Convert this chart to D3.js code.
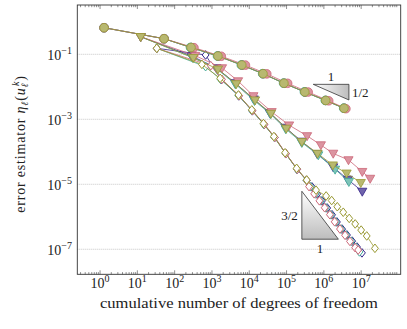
<!DOCTYPE html>
<html><head><meta charset="utf-8">
<script src="https://cdn.jsdelivr.net/npm/d3@7"></script>
<style>html,body{margin:0;padding:0;background:#fff}svg{display:block}</style>
</head><body>
<script>
// ---- data ----
const xTickExps = [0,1,2,3,4,5,6,7];
const yTickExps = [-1,-3,-5,-7];
const colors = {blue:"#332288", pink:"#CC6677", teal:"#44AA99", olive:"#999933"};
const seriesOrder = ["blue","teal","pink","olive"];

// circles (rate 1/2)
const dofCircBlue  = [1.28, 52, 280, 1460, 6400, 23600, 86000, 312000, 1.13e6, 3.5e6];
const etaCircBlue  = [0.658, 0.302, 0.161, 0.0885, 0.0466, 0.0252, 0.0128, 0.0069, 0.0038, 0.00218];
const dofCircTeal  = [1.28, 52, 265, 1400, 6100, 22800, 83000, 300000, 1.09e6, 3.4e6];
const etaCircTeal  = [0.658, 0.302, 0.163, 0.089, 0.047, 0.0254, 0.0130, 0.0070, 0.0038, 0.0022];
const dofCircPink  = [1.28, 52, 330, 1780, 7900, 29500, 107000, 380000, 1.35e6, 3.9e6];
const etaCircPink  = [0.658, 0.302, 0.160, 0.087, 0.0465, 0.0250, 0.0128, 0.0069, 0.0037, 0.00212];
const dofCircOlive = [1.28, 52, 275, 1445, 6310, 23400, 85100, 309000, 1.12e6, 3.47e6];
const etaCircOlive = [0.658, 0.302, 0.162, 0.0887, 0.0468, 0.0253, 0.0129, 0.00692, 0.0038, 0.00219];

// triangles (rate 1)
const dofTriBlue  = [12.3, 282, 1318, 4170, 13200, 35500, 93300, 251000, 661000, 1.78e6, 4.37e6, 1.07e7];
const etaTriBlue  = [0.347, 0.0891, 0.038, 0.0132, 0.00417, 0.00158, 5.62e-4, 2.09e-4, 8.71e-5, 3.39e-5, 1.41e-5, 6.03e-6];
const dofTriTeal  = [12.3, 302, 1380, 4270, 13800, 37200, 95500, 257000, 708000, 2.0e6, 4.68e6];
const etaTriTeal  = [0.347, 0.0794, 0.0347, 0.012, 0.00372, 0.00145, 5.01e-4, 1.91e-4, 7.94e-5, 2.88e-5, 1.2e-5];
const dofTriPink  = [12.3, 355, 1860, 5010, 12900, 39800, 117000, 355000, 832000, 1.78e6, 4.57e6, 1.07e7, 1.74e7];
const etaTriPink  = [0.347, 0.0912, 0.038, 0.0151, 0.00525, 0.0017, 6.61e-4, 3.09e-4, 1.62e-4, 8.91e-5, 5.62e-5, 2.45e-5, 1.51e-5];
const dofTriOlive = [12.3, 316, 1445, 4470, 14300, 38000, 97700, 257000, 676000, 1.74e6, 4.07e6, 9.77e6];
const etaTriOlive = [0.347, 0.0785, 0.0347, 0.0123, 0.00389, 0.00151, 5.25e-4, 2.04e-4, 8.91e-5, 3.89e-5, 2.19e-5, 1.12e-5];

// diamonds (rate 3/2)
const dofDiaBlue  = [33.1, 676, 1780, 5250, 12000, 25100, 47900, 95500, 191000, 347000, 479000, 661000, 891000, 1.23e6, 1.66e6, 2.24e6, 3.09e6, 4.17e6, 5.75e6, 7.76e6, 1.05e7];
const etaDiaBlue  = [0.153, 0.0955, 0.0166, 0.00525, 0.00182, 6.92e-4, 2.75e-4, 8.71e-5, 2.88e-5, 1.32e-5, 8.32e-6, 5.01e-6, 3.09e-6, 1.86e-6, 1.15e-6, 6.92e-7, 4.17e-7, 2.75e-7, 1.78e-7, 1.17e-7, 7.76e-8];
const dofDiaTeal  = [33.1, 676, 1700, 5100, 11800, 24500, 47000, 94000, 188000, 340000, 440000, 600000, 820000, 1.13e6, 1.55e6, 2.1e6, 2.9e6, 3.95e6, 5.4e6, 7.3e6, 9.0e6];
const etaDiaTeal  = [0.153, 0.0417, 0.0170, 0.0054, 0.00186, 7.0e-4, 2.8e-4, 8.9e-5, 2.95e-5, 1.34e-5, 8.4e-6, 5.05e-6, 3.1e-6, 1.88e-6, 1.15e-6, 6.95e-7, 4.2e-7, 2.75e-7, 1.77e-7, 1.15e-7, 8.3e-8];
const dofDiaPink  = [33.1, 930, 1850, 5350, 12200, 25500, 48500, 96500, 193000, 345000, 400000, 550000, 760000, 1.05e6, 1.45e6, 1.95e6, 2.7e6, 3.7e6, 5.0e6, 6.9e6, 8.3e6];
const etaDiaPink  = [0.153, 0.0447, 0.0170, 0.0053, 0.00184, 7.0e-4, 2.78e-4, 8.8e-5, 2.9e-5, 1.34e-5, 8.5e-6, 5.1e-6, 3.1e-6, 1.9e-6, 1.16e-6, 7.0e-7, 4.2e-7, 2.7e-7, 1.75e-7, 1.12e-7, 9.5e-8];
const dofDiaOlive = [33.1, 537, 1660, 5130, 11700, 24000, 45700, 91200, 186000, 347000, 617000, 1.15e6, 1.62e6, 2.29e6, 3.31e6, 4.79e6, 6.92e6, 1.0e7, 1.41e7, 2.34e7];
const etaDiaOlive = [0.153, 0.049, 0.0182, 0.00562, 0.00195, 7.41e-4, 2.95e-4, 9.33e-5, 3.09e-5, 1.35e-5, 6.61e-6, 4.37e-6, 3.16e-6, 2.04e-6, 1.38e-6, 8.91e-7, 6.03e-7, 3.89e-7, 2.57e-7, 1.07e-7];

// slope triangles: corners in data units
const slopeHalf = {x:[5.2e5, 4.7e6], y:[1.19e-2, 3.93e-3], run:"1", rise:"1/2"};
const slopeThreeHalf = {x:[2.57e5, 2.45e6], y:[6.1e-6, 2.04e-7], run:"1", rise:"3/2"};

const xTitle = "cumulative number of degrees of freedom";

// ---- drawing ----
const W = 407, H = 329;
const L = 77.3, R = 400.7, T = 5, B = 274.3;
const svg = d3.select("body").append("svg").attr("width", W).attr("height", H);
const x = d3.scaleLog().domain([Math.pow(10,-0.61), Math.pow(10,8.06)]).range([L, R]);
const y = d3.scaleLog().domain([Math.pow(10,0.517), Math.pow(10,-7.77)]).range([T, B]);
const font = "'Liberation Serif', 'DejaVu Serif', serif";

const defs = svg.append("defs");
const g1 = defs.append("linearGradient").attr("id","gradH").attr("x1","0").attr("y1","0").attr("x2","1").attr("y2","0");
g1.append("stop").attr("offset","0").attr("stop-color","#ffffff");
g1.append("stop").attr("offset","1").attr("stop-color","#bdbdbd");
const g2 = defs.append("linearGradient").attr("id","gradV").attr("x1","0").attr("y1","0").attr("x2","0").attr("y2","1");
g2.append("stop").attr("offset","0").attr("stop-color","#ffffff");
g2.append("stop").attr("offset","1").attr("stop-color","#bdbdbd");
defs.append("clipPath").attr("id","clip").append("rect").attr("x",L).attr("y",T).attr("width",R-L).attr("height",B-T);

// grid
svg.append("g").selectAll("line").data(yTickExps).join("line")
  .attr("x1", L).attr("x2", R)
  .attr("y1", d => y(Math.pow(10,d))).attr("y2", d => y(Math.pow(10,d)))
  .attr("stroke", "#b8b8b8").attr("stroke-width", 0.8).attr("stroke-dasharray", "1,1");

// x ticks (major+minor), bottom and top, inward
const minor = [];
for (let e = -1; e <= 8; e++) for (let m = 2; m <= 9; m++) { const v = m*Math.pow(10,e); if (x(v) > L && x(v) < R) minor.push(v); }
const tk = svg.append("g").attr("stroke", "#444").attr("stroke-width", 0.6);
xTickExps.forEach(e => {
  const px = x(Math.pow(10,e));
  tk.append("line").attr("x1",px).attr("x2",px).attr("y1",B).attr("y2",B-4);
  tk.append("line").attr("x1",px).attr("x2",px).attr("y1",T).attr("y2",T+4);
});
minor.forEach(v => {
  const px = x(v);
  tk.append("line").attr("x1",px).attr("x2",px).attr("y1",B).attr("y2",B-2.2);
  tk.append("line").attr("x1",px).attr("x2",px).attr("y1",T).attr("y2",T+2.2);
});

// tick labels
const xl = svg.append("g").attr("font-family", font).attr("font-size", 14).attr("fill", "#222");
xTickExps.forEach(e => {
  const t = xl.append("text").attr("x", x(Math.pow(10,e))).attr("y", 288).attr("text-anchor","middle");
  t.append("tspan").text("10");
  t.append("tspan").attr("dy", -6).attr("font-size", 10).text(String(e));
});
const yl = svg.append("g").attr("font-family", font).attr("font-size", 14).attr("fill", "#222");
yTickExps.forEach(e => {
  const t = yl.append("text").attr("x", 72).attr("y", y(Math.pow(10,e)) + 6);
  t.append("tspan").text("10");
  t.append("tspan").attr("dy", -6).attr("font-size", 10).text("\u2212" + String(-e));
  const bb = t.node().getBBox();
  t.attr("x", 72 - bb.width);
});

// axis titles
svg.append("text").attr("x", (L+R)/2).attr("y", 308).attr("text-anchor","middle")
  .attr("font-family", font).attr("font-size", 14).attr("fill","#222")
  .attr("textLength", 278).attr("lengthAdjust","spacingAndGlyphs").text(xTitle);
const yt = svg.append("text").attr("font-family", font).attr("font-size", 14).attr("fill","#222");
yt.append("tspan").text("error estimator ");
yt.append("tspan").attr("font-style","italic").text("\u03B7");
yt.append("tspan").attr("font-style","italic").attr("font-size",10).attr("dy",3).text("\u2113");
yt.append("tspan").attr("dy",-3).text("(");
yt.append("tspan").attr("font-style","italic").text("u");
yt.append("tspan").attr("font-style","italic").attr("font-size",10).attr("dy",3).text("\u2113");
yt.append("tspan").attr("font-style","italic").attr("font-size",10).attr("dx",-3.5).attr("dy",-9).text("k");
yt.append("tspan").attr("dy",6).text(")");
{
  const n = yt.text().length;
  const w0 = yt.node().getBBox().width;
  yt.attr("letter-spacing", (138 - w0) / n);
  const bb = yt.node().getBBox();
  const cx = bb.x + bb.width / 2;
  yt.attr("transform", `translate(24.5,${144}) rotate(-90) translate(${-cx},0)`);
}

// slope triangles
function slopeTri(s, horizontalTop) {
  const x0 = x(s.x[0]), x1 = x(s.x[1]), y0 = y(s.y[0]), y1 = y(s.y[1]);
  const g = svg.append("g");
  const tf = (sel) => sel.attr("font-family",font).attr("font-size",13).attr("fill","#222");
  if (horizontalTop) {
    g.append("path").attr("d", `M${x0},${y0}L${x1},${y0}L${x1},${y1}Z`).attr("fill","url(#gradH)").attr("stroke","#333").attr("stroke-width",0.8);
    tf(g.append("text").attr("x",(x0+x1)/2).attr("y",y0-3).attr("text-anchor","middle")).text(s.run);
    tf(g.append("text").attr("x",x1+3).attr("y",(y0+y1)/2+5)).text(s.rise);
  } else {
    g.append("path").attr("d", `M${x0},${y0}L${x0},${y1}L${x1},${y1}Z`).attr("fill","url(#gradV)").attr("stroke","#333").attr("stroke-width",0.8);
    tf(g.append("text").attr("x",(x0+x1)/2).attr("y",y1+14).attr("text-anchor","middle")).text(s.run);
    tf(g.append("text").attr("x",x0-4).attr("y",(y0+y1)/2+5).attr("text-anchor","end")).text(s.rise);
  }
}
slopeTri(slopeHalf, true);
slopeTri(slopeThreeHalf, false);

// series
const groups = [
  {shape:"circle",  data:{blue:[dofCircBlue,etaCircBlue], teal:[dofCircTeal,etaCircTeal], pink:[dofCircPink,etaCircPink], olive:[dofCircOlive,etaCircOlive]}},
  {shape:"tri",     data:{blue:[dofTriBlue,etaTriBlue], teal:[dofTriTeal,etaTriTeal], pink:[dofTriPink,etaTriPink], olive:[dofTriOlive,etaTriOlive]}},
  {shape:"diamond", data:{blue:[dofDiaBlue,etaDiaBlue], teal:[dofDiaTeal,etaDiaTeal], pink:[dofDiaPink,etaDiaPink], olive:[dofDiaOlive,etaDiaOlive]}}
];
const plot = svg.append("g").attr("clip-path","url(#clip)");
const line = d3.line().x(d => x(d[0])).y(d => y(d[1]));
const circlePath = d3.symbol().type(d3.symbolCircle).size(58)();
const triPath = "M-4.6,-3.2L4.6,-3.2L0,4.8Z";
const diaPath = "M0,-4.3L3.4,0L0,4.3L-3.4,0Z";
function lighten(c, k) { return d3.interpolateRgb(c, "#fff")(k); }

seriesOrder.forEach(key => {
  groups.forEach(gr => {
    const [xs, ys] = gr.data[key];
    const pts = xs.map((v,i) => [v, ys[i]]);
    const c = colors[key];
    plot.append("path").datum(pts).attr("d", line).attr("fill","none").attr("stroke", c).attr("stroke-width", 0.8);
    const p = gr.shape === "circle" ? circlePath : gr.shape === "tri" ? triPath : diaPath;
    plot.append("g").selectAll("path").data(pts).join("path")
      .attr("transform", d => `translate(${x(d[0])},${y(d[1])})`)
      .attr("d", p)
      .attr("fill", gr.shape === "diamond" ? "#fff" : lighten(c, 0.3))
      .attr("stroke", c).attr("stroke-width", gr.shape === "diamond" ? 1 : 0.8);
  });
});

// frame
svg.append("rect").attr("x",L).attr("y",T).attr("width",R-L).attr("height",B-T)
  .attr("fill","none").attr("stroke","#333").attr("stroke-width",0.9);
</script>
</body></html>
